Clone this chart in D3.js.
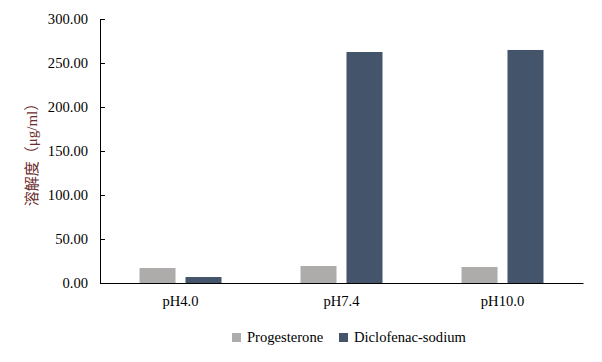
<!DOCTYPE html>
<html><head><meta charset="utf-8">
<script src="https://cdn.jsdelivr.net/npm/d3@7"></script>
<style>body{margin:0;background:#fff}</style>
</head><body>
<svg id="c" width="602" height="362"></svg>
<script>
const categories = ["pH4.0", "pH7.4", "pH10.0"];
const seriesNames = ["Progesterone", "Diclofenac-sodium"];
const progesterone = [17.0, 19.3, 18.2];
const diclofenac = [6.8, 262.5, 264.8];
const yTicks = [0, 50, 100, 150, 200, 250, 300];
const colors = ["#AEABAB", "#44546A"];

const svg = d3.select("#c");
const mLeft = 100, mRight = 583, mTop = 19, mBottom = 283;
const x = d3.scaleBand().domain(categories).range([mLeft, mRight]);
const sub = d3.scaleBand().domain(seriesNames).range([0, x.bandwidth()]).paddingInner(0.217).paddingOuter(0.859);
const y = d3.scaleLinear().domain([0, 300]).range([mBottom, mTop]);
const serif = "'Liberation Serif','Times New Roman',serif";
const fs = 14.6;

const data = categories.map((c, i) => ({c, v: [progesterone[i], diclofenac[i]]}));
const g = svg.append("g");
g.selectAll("g.cat").data(data).join("g").attr("class","cat")
 .attr("transform", d => `translate(${x(d.c)},0)`)
 .selectAll("rect").data(d => d.v.map((v, j) => ({v, s: seriesNames[j], j})))
 .join("rect")
 .attr("x", d => sub(d.s)).attr("width", sub.bandwidth())
 .attr("y", d => y(d.v)).attr("height", d => y(0) - y(d.v))
 .attr("fill", d => colors[d.j]);

const ya = svg.append("g").attr("transform", `translate(${mLeft},0)`)
 .call(d3.axisLeft(y).tickValues(yTicks).tickFormat(d3.format(".2f")).tickSizeInner(-5).tickSizeOuter(0).tickPadding(12));
ya.select(".domain").attr("stroke", "#000");
ya.selectAll(".tick line").attr("stroke", "#000");
ya.selectAll("text").attr("font-family", serif).attr("font-size", fs).attr("fill", "#000");

const xa = svg.append("g").attr("transform", `translate(0,${mBottom})`)
 .call(d3.axisBottom(x).tickSize(0).tickPadding(13));
xa.select(".domain").attr("stroke", "#000").attr("stroke-width", 1.2);
xa.selectAll("text").attr("font-family", serif).attr("font-size", fs).attr("fill", "#000");

svg.append("text").attr("transform", "translate(37,151) rotate(-90)")
 .attr("text-anchor", "middle").attr("font-size", 15).attr("fill", "#6B2D2D")
 .attr("font-family", "'Liberation Serif','Noto Sans CJK SC',serif")
 .text("溶解度（μg/ml）");

const leg = svg.append("g");
const legX = [232, 339];
seriesNames.forEach((s, i) => {
  leg.append("rect").attr("x", legX[i]).attr("y", 333).attr("width", 9).attr("height", 9).attr("fill", colors[i]);
  leg.append("text").attr("x", legX[i] + 15).attr("y", 342).attr("font-family", serif)
   .attr("font-size", fs).attr("fill", "#000").text(s);
});
</script>
</body></html>
